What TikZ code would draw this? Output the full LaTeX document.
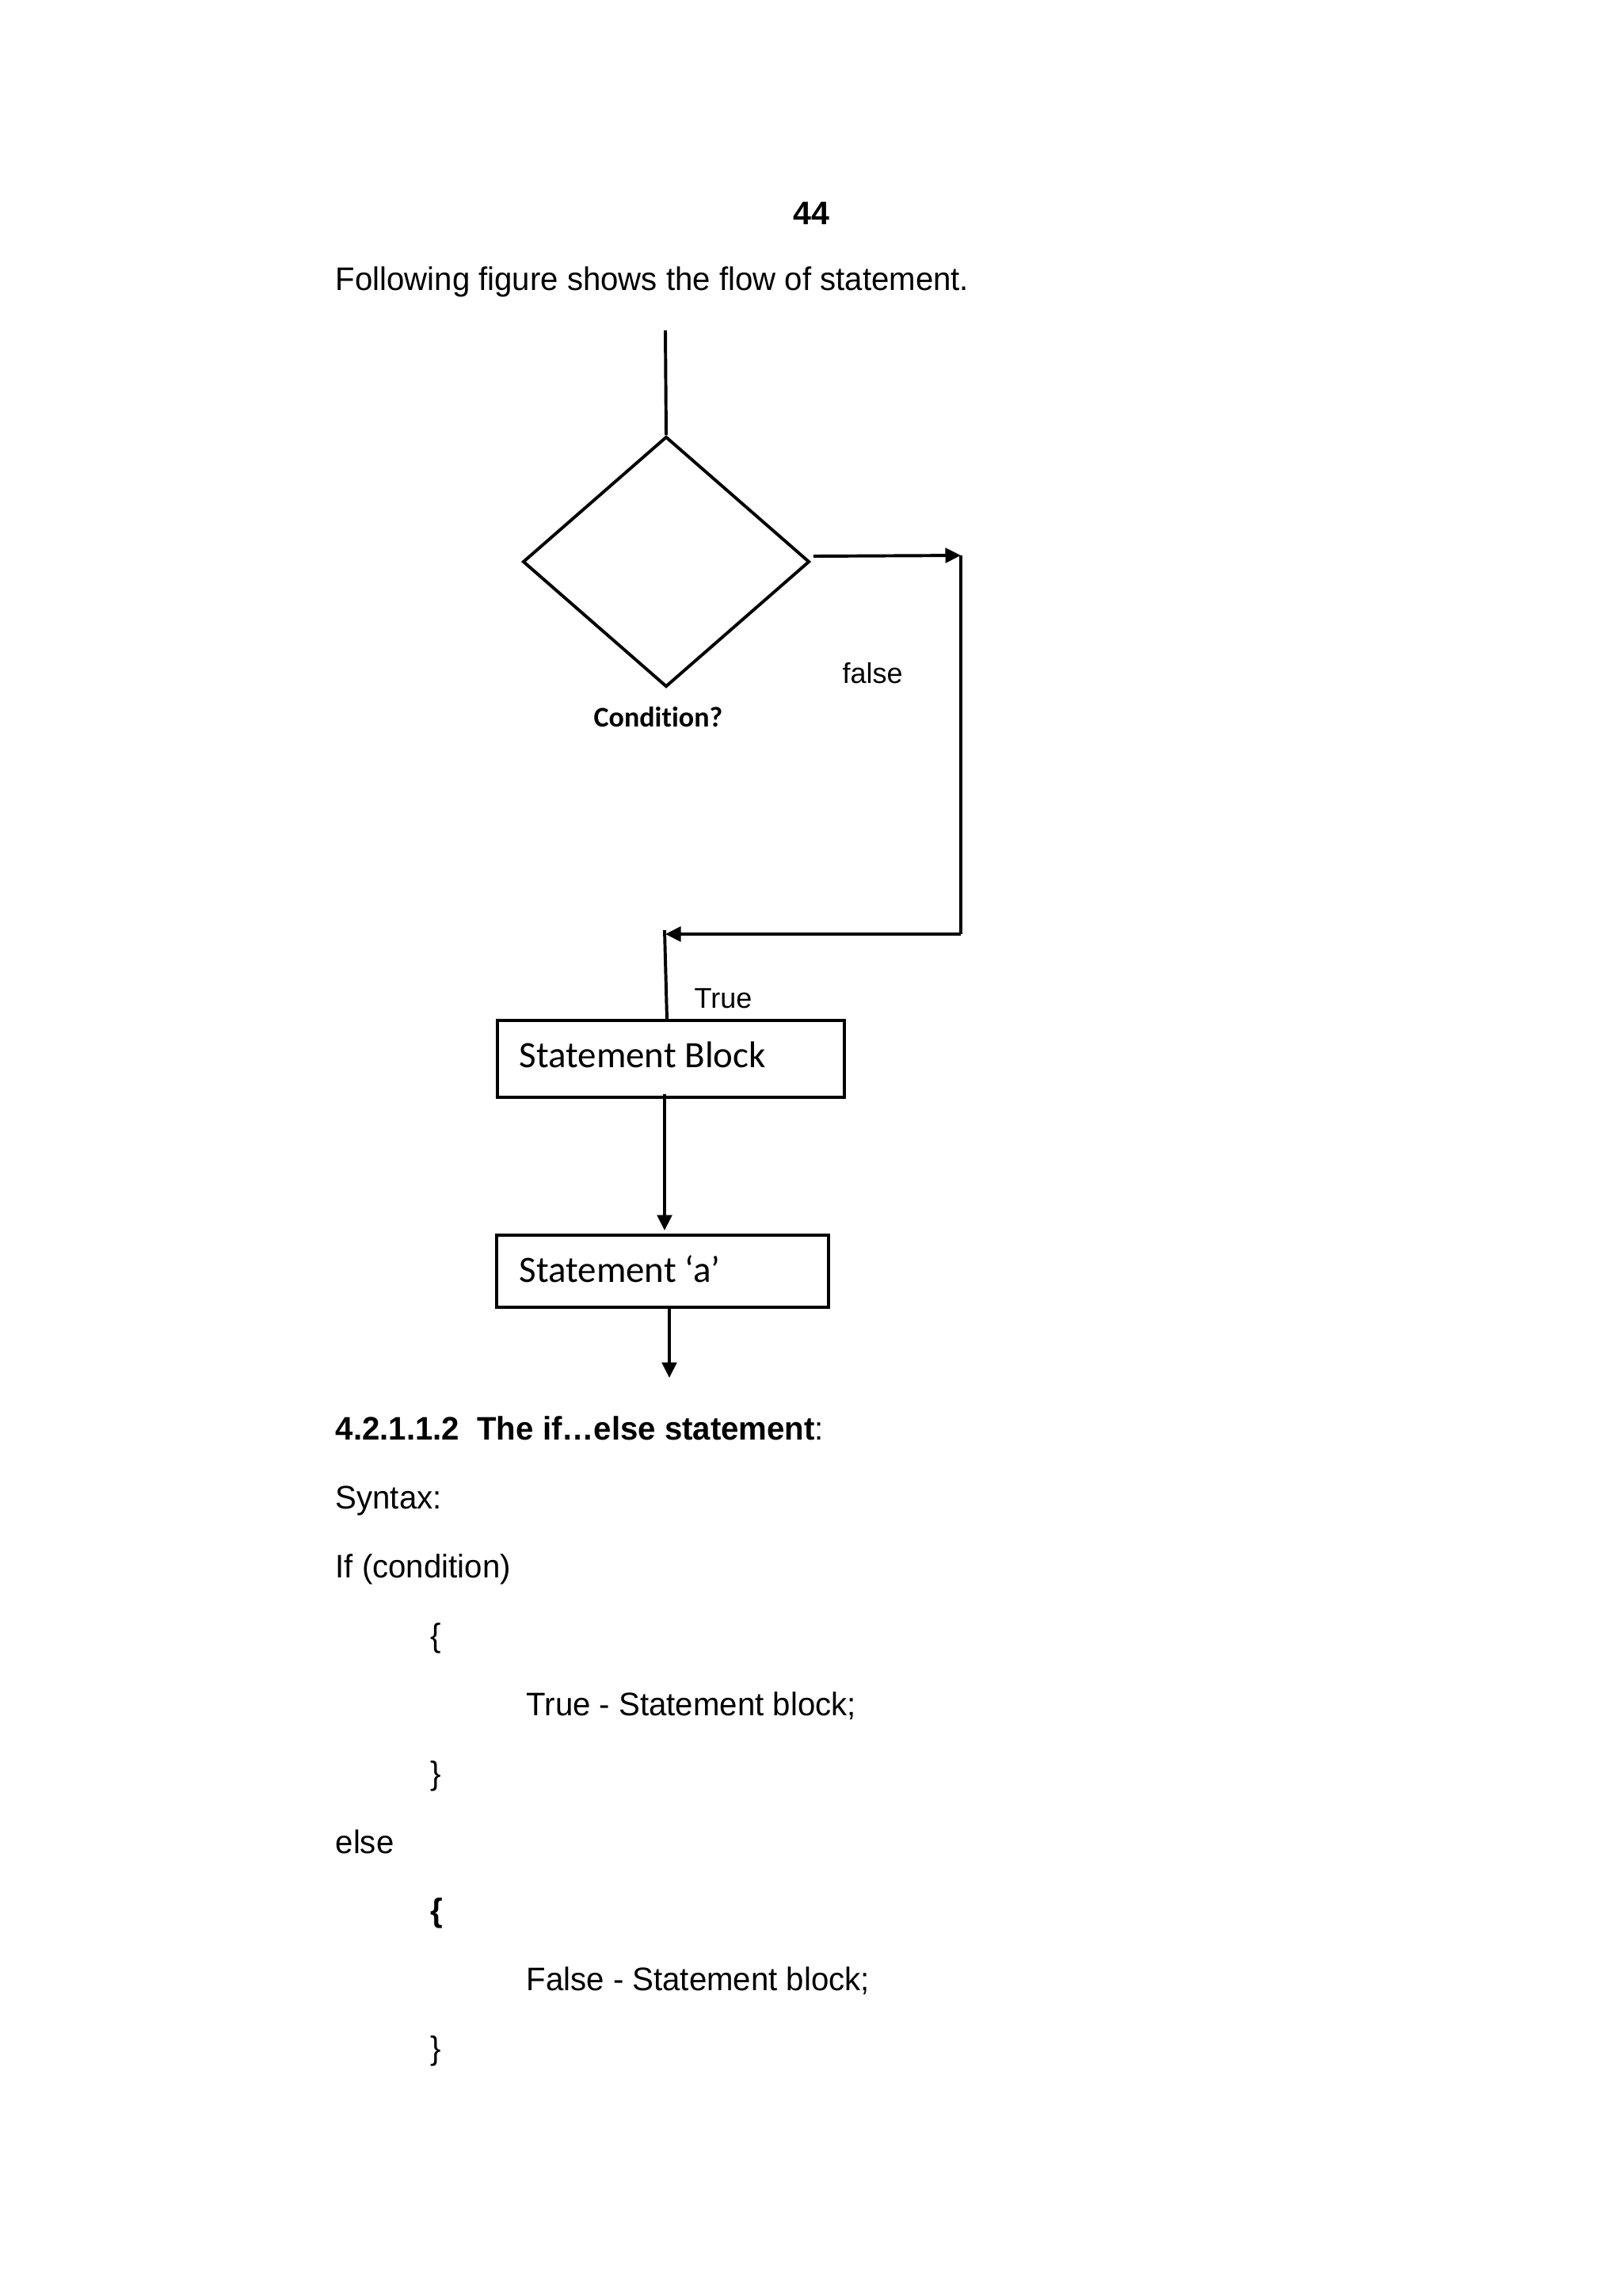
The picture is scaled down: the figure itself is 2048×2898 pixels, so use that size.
\documentclass[tikz,border=0pt]{standalone}
\usepackage{fontspec}
\setmainfont{Liberation Sans}
\newfontfamily\calib[Ligatures=NoCommon]{Carlito}
\usetikzlibrary{arrows.meta,shapes.geometric}
\begin{document}
\begin{tikzpicture}[x=0.10254mm,y=-0.10254mm,
  ln/.style={line width=1.15pt},
  arr/.style={ln,-{Triangle[length=2mm,width=1.9mm]}},
  txt/.style={anchor=base west,inner sep=0pt,xscale=0.977,font=\fontsize{12}{14}\selectfont},
  btxt/.style={anchor=base west,inner sep=0pt,xscale=0.977,font=\bfseries\fontsize{12}{14}\selectfont},
  lbl/.style={anchor=base west,inner sep=0pt,font=\fontsize{10.5}{12}\selectfont},
  blk/.style={draw,ln,rectangle,inner sep=0pt},
  blktxt/.style={anchor=base west,inner sep=0pt,font=\calib\fontsize{13.7}{16}\selectfont},
]
\fill[white] (0,0) rectangle (2048,2898);
\useasboundingbox (0,0) rectangle (2048,2898);

\node[anchor=base,inner sep=0pt,font=\bfseries\fontsize{12}{14}\selectfont] (pg) at (1024,283) {44};
\node[txt] (intro) at (423,366) {Following figure shows the flow of statement.};

% flowchart
\coordinate (in) at (840,417);
\node[draw,ln,diamond,minimum width=37.1mm,minimum height=32.4mm,inner sep=0pt] (cond) at (841,709) {};
\node[anchor=base west,inner sep=0pt,font=\calib\bfseries\fontsize{10.5}{12}\selectfont] (condl) at (749,917) {Condition?};
\node[lbl] (fl) at (1063,862) {false};
\coordinate (k1) at (1213,701);
\coordinate (k2) at (1213,1179);
\coordinate (k3) at (840,1179);

\node[blk,minimum width=44.9mm,minimum height=9.95mm] (b1) at (847,1336.5) {};
\node[blktxt] (b1t) at (655,1347) {Statement Block};
\node[blk,minimum width=42.96mm,minimum height=9.33mm] (b2) at (836.5,1604.5) {};
\node[blktxt] (b2t) at (655,1618) {Statement ‘a’};
\node[lbl] (tl) at (876,1272) {True};
\coordinate (out) at (845,1739);

\draw[ln] (in) -- (cond.north);
\draw[arr] ([shift={(3,-7)}]cond.east) -- (k1);
\draw[ln] (k1) -- (k2);
\draw[arr] (k2) -- (k3);
\draw[ln] ([shift={(-1,-5)}]k3) -- ([shift={(-5,0)}]b1.north);
\draw[arr] ([shift={(-8,-6)}]b1.south) -- ([shift={(2.5,-4)}]b2.north);
\draw[arr] ([shift={(8.5,0)}]b2.south) -- (out);

% text below
\node[btxt] (head) at (423,1817) {4.2.1.1.2\ \ The if…else statement\textmd{:}};
\node[txt] (syn) at (423,1904) {Syntax:};
\node[txt] (ifl) at (423,1991) {If (condition)};
\node[txt] (ob1) at (543,2078) {\{};
\node[txt] (ts) at (664,2165) {True - Statement block;};
\node[txt] (cb1) at (543,2252) {\}};
\node[txt] (el) at (423,2339) {else};
\node[btxt] (ob2) at (543,2425) {\{};
\node[txt] (fs) at (664,2512) {False - Statement block;};
\node[txt] (cb2) at (543,2599) {\}};
\end{tikzpicture}
\end{document}
